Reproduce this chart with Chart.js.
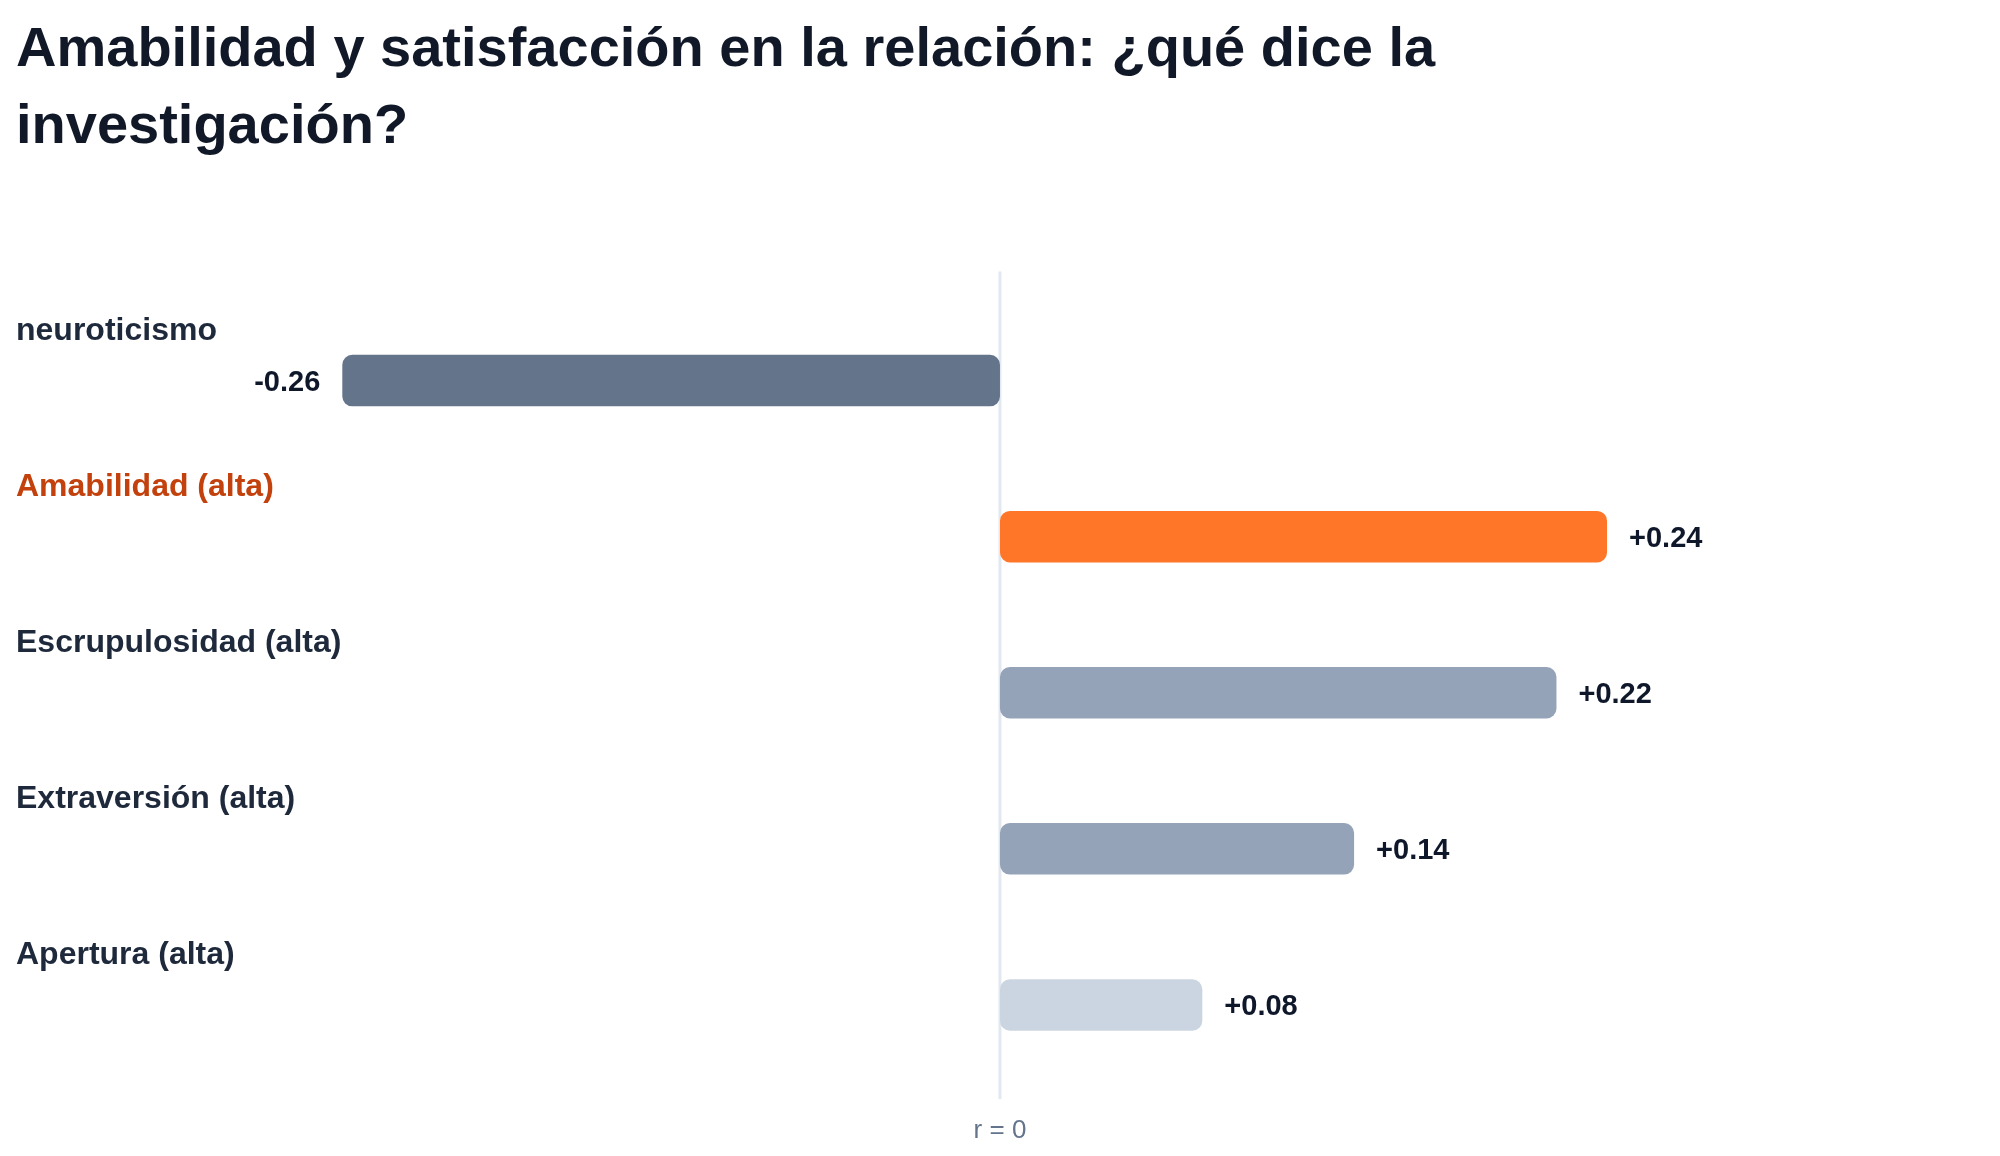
<!DOCTYPE html>
<html>
<head>
<meta charset="utf-8">
<script src="https://cdn.jsdelivr.net/npm/chart.js@4"></script>
<style>
  html, body { margin: 0; padding: 0; background: #ffffff; }
  #wrap { width: 2000px; height: 1156px; }
</style>
</head>
<body>
<div id="wrap"><canvas id="chart" width="2000" height="1156"></canvas></div>
<script>
const categories = [
    "neuroticismo",
    "Amabilidad (alta)",
    "Escrupulosidad (alta)",
    "Extraversión (alta)",
    "Apertura (alta)"
];
const correlations = [-0.26, 0.24, 0.22, 0.14, 0.08];
const highlight = "Amabilidad (alta)";
const zeroLabel = "r = 0";

const barColors = ["#64748b", "#ff7628", "#94a3b8", "#94a3b8", "#cbd5e1"];
const FONT = "'Liberation Sans', Arial, Helvetica, sans-serif";

// labels above each bar, value labels next to the bar end, zero line
const annotate = {
    id: "annotate",
    beforeDatasetsDraw(chart) {
        const { ctx, chartArea, scales } = chart;
        const x0 = scales.x.getPixelForValue(0);
        ctx.save();
        ctx.strokeStyle = "#e2e8f0";
        ctx.lineWidth = 3;
        ctx.beginPath();
        ctx.moveTo(x0, chartArea.top - 31);
        ctx.lineTo(x0, chartArea.bottom + 16);
        ctx.stroke();
        ctx.restore();
    },
    afterDatasetsDraw(chart) {
        const { ctx, chartArea, scales } = chart;
        const meta = chart.getDatasetMeta(0);
        ctx.save();
        categories.forEach((name, i) => {
            const yc = scales.y.getPixelForValue(i);
            ctx.font = "bold 32px " + FONT;
            ctx.textAlign = "left";
            ctx.textBaseline = "alphabetic";
            ctx.fillStyle = name === highlight ? "#c2410c" : "#1e293b";
            ctx.fillText(name, 16, yc - 41);

            const v = correlations[i];
            const bar = meta.data[i];
            ctx.font = "bold 29px " + FONT;
            ctx.fillStyle = "#0f172a";
            const txt = (v > 0 ? "+" : "") + v.toFixed(2);
            if (v < 0) {
                ctx.textAlign = "right";
                ctx.fillText(txt, bar.x - 22, yc + 10);
            } else {
                ctx.textAlign = "left";
                ctx.fillText(txt, bar.x + 22, yc + 10);
            }
        });
        ctx.font = "26px " + FONT;
        ctx.fillStyle = "#64748b";
        ctx.textAlign = "center";
        ctx.textBaseline = "middle";
        ctx.fillText(zeroLabel, scales.x.getPixelForValue(0), chartArea.bottom + 48);
        ctx.restore();
    }
};

new Chart(document.getElementById("chart"), {
    type: "bar",
    data: {
        labels: categories,
        datasets: [{
            data: correlations,
            backgroundColor: barColors,
            borderRadius: 10,
            borderSkipped: false,
            barPercentage: 0.33,
            categoryPercentage: 1
        }]
    },
    options: {
        indexAxis: "y",
        responsive: false,
        animation: false,
        layout: {
            padding: { left: 16, right: 11, top: 0, bottom: 73 }
        },
        plugins: {
            legend: { display: false },
            tooltip: { enabled: false },
            title: {
                display: true,
                text: [
                    "Amabilidad y satisfacción en la relación: ¿qué dice la",
                    "investigación?"
                ],
                align: "start",
                color: "#111827",
                font: { family: FONT, size: 56, weight: "bold", lineHeight: 1.38 },
                padding: { top: 12, bottom: 136 }
            }
        },
        scales: {
            x: {
                display: false,
                min: -0.389,
                max: 0.391
            },
            y: {
                display: false
            }
        }
    },
    plugins: [annotate]
});
</script>
</body>
</html>
